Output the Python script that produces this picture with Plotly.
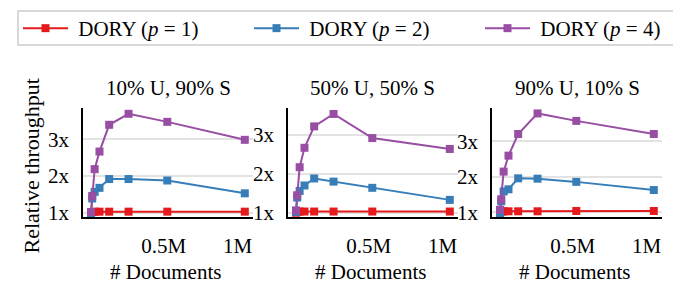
import plotly.graph_objects as go

W, H = 681, 286

docs = [2**13, 2**14, 2**15, 2**16, 2**17, 2**18, 2**19, 2**20]
panel_titles = ["10% U, 90% S", "50% U, 50% S", "90% U, 10% S"]
series_names = ["DORY (<i>p</i> = 1)", "DORY (<i>p</i> = 2)", "DORY (<i>p</i> = 4)"]
colors = ["#e41a1c", "#377eb8", "#984ea3"]

p1_vals = [
    [1.00, 1.02, 1.03, 1.03, 1.03, 1.03, 1.03, 1.03],
    [1.00, 1.02, 1.03, 1.03, 1.03, 1.03, 1.03, 1.03],
    [1.00, 1.02, 1.03, 1.03, 1.03, 1.03, 1.04, 1.04],
]
p2_vals = [
    [0.97, 1.39, 1.57, 1.68, 1.92, 1.92, 1.88, 1.53],
    [1.02, 1.39, 1.56, 1.70, 1.88, 1.80, 1.64, 1.33],
    [0.97, 1.31, 1.59, 1.65, 1.96, 1.95, 1.86, 1.63],
]
p4_vals = [
    [1.02, 1.46, 2.19, 2.67, 3.40, 3.70, 3.48, 2.99],
    [1.06, 1.45, 2.17, 2.67, 3.22, 3.54, 2.92, 2.64],
    [1.07, 1.37, 2.15, 2.60, 3.21, 3.79, 3.58, 3.21],
]
y_ranges = [[0.885, 3.855], [0.89, 3.69], [0.87, 3.94]]
x_tickvals = [500000, 1000000]
x_ticktext = ["0.5M", "1M"]
y_tickvals = [1, 2, 3]
y_ticktext = ["1x", "2x", "3x"]

FONT = "Liberation Serif, Times New Roman, serif"

px_x = [(75, 245), (280, 450), (484, 654)]
top_px, bot_px = 103, 215
legend_px = [10, 241, 472]
legend_keys = ["legend", "legend2", "legend3"]

fig = go.Figure()
all_vals = [p1_vals, p2_vals, p4_vals]
for i in range(3):
    xa = "x" if i == 0 else f"x{i+1}"
    ya = "y" if i == 0 else f"y{i+1}"
    for s in range(3):
        fig.add_trace(go.Scatter(
            x=docs, y=all_vals[s][i], mode="lines+markers",
            name="&nbsp;" + series_names[s], legendgroup=str(s), showlegend=(i == 0),
            legend=legend_keys[s],
            line=dict(color=colors[s], width=2),
            marker=dict(symbol="square", size=8, color=colors[s]),
            xaxis=xa, yaxis=ya,
        ))

layout = dict(
    width=W, height=H,
    margin=dict(l=0, r=0, t=0, b=0),
    paper_bgcolor="white", plot_bgcolor="white",
    font=dict(family=FONT, size=21, color="black"),
    showlegend=True,
)
for s in range(3):
    layout[legend_keys[s]] = dict(
        orientation="h", x=legend_px[s] / W, y=1 - 21 / H, xanchor="left", yanchor="middle",
        font=dict(family=FONT, size=21, color="black"),
        bgcolor="rgba(0,0,0,0)", itemwidth=45,
    )
for i in range(3):
    xk = "xaxis" if i == 0 else f"xaxis{i+1}"
    yk = "yaxis" if i == 0 else f"yaxis{i+1}"
    x0, x1 = px_x[i]
    scale = 77.5 / 524288.0
    zero = 81.8 - 75
    rmin = -zero / scale
    rmax = rmin + (x1 - x0) / scale
    layout[xk] = dict(
        domain=[x0 / W, x1 / W], range=[rmin, rmax],
        anchor="y" if i == 0 else f"y{i+1}",
        tickvals=x_tickvals, ticktext=x_ticktext,
        showgrid=False, zeroline=False, showline=True, linecolor="black", linewidth=1.5,
        ticks="", ticklabelstandoff=9,
        tickfont=dict(family=FONT, size=21, color="black"),
    )
    layout[yk] = dict(
        domain=[1 - bot_px / H, 1 - top_px / H], range=y_ranges[i],
        anchor="x" if i == 0 else f"x{i+1}",
        tickvals=y_tickvals, ticktext=y_ticktext,
        showgrid=True, gridcolor="#e3e3e3", gridwidth=2,
        zeroline=False, showline=True, linecolor="black", linewidth=1.5,
        ticks="", ticklabelstandoff=8,
        tickfont=dict(family=FONT, size=21, color="black"),
    )

annotations = []
for i in range(3):
    x0, x1 = px_x[i]
    cx = (x0 + x1) / 2
    annotations.append(dict(
        text=panel_titles[i], x=cx / W, y=1 - 82 / H, xref="paper", yref="paper",
        xanchor="center", yanchor="middle", showarrow=False,
        font=dict(family=FONT, size=21, color="black"),
    ))
    annotations.append(dict(
        text="# Documents", x=(cx - 3) / W, y=1 - 272 / H, xref="paper", yref="paper",
        xanchor="center", yanchor="middle", showarrow=False,
        font=dict(family=FONT, size=21, color="black"),
    ))
annotations.append(dict(
    text="Relative throughput", x=23 / W, y=1 - 163 / H, xref="paper", yref="paper",
    xanchor="center", yanchor="middle", showarrow=False, textangle=-90,
    font=dict(family=FONT, size=22, color="black"),
))
layout["annotations"] = annotations
layout["shapes"] = [dict(
    type="rect", xref="paper", yref="paper",
    x0=10 / W, x1=673 / W, y0=1 - 38 / H, y1=1 - 3 / H,
    line=dict(color="#cccccc", width=1.5), fillcolor="rgba(0,0,0,0)", layer="below",
)]

fig.update_layout(**layout)
fig.write_html("out.html")
